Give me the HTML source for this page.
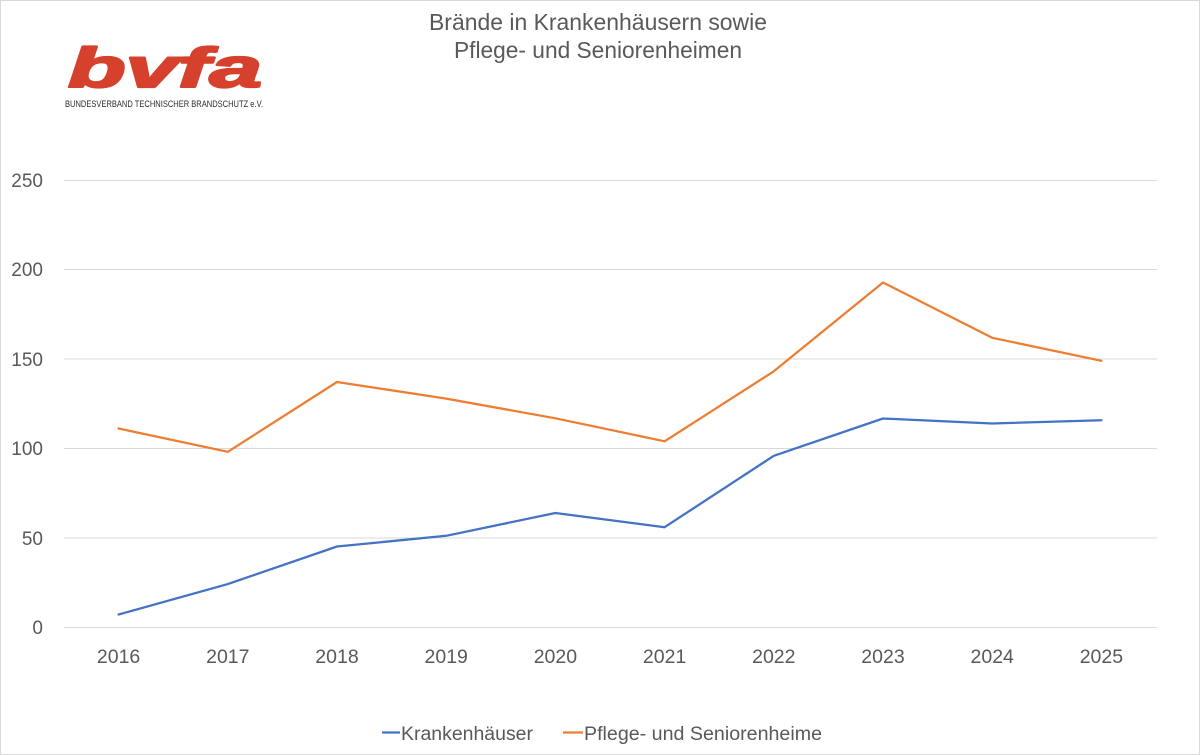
<!DOCTYPE html>
<html>
<head>
<meta charset="utf-8">
<style>
  html, body { margin: 0; padding: 0; background: #ffffff; }
  body { width: 1200px; height: 755px; overflow: hidden; }
  svg { display: block; }
  text { font-family: "Liberation Sans", "DejaVu Sans", sans-serif; }
</style>
</head>
<body>
<svg width="1200" height="755" viewBox="0 0 1200 755" xmlns="http://www.w3.org/2000/svg">
  <rect x="0.5" y="0.5" width="1199" height="754" fill="#ffffff" stroke="#d9d9d9" stroke-width="1"/>

  <!-- Logo -->
  <text x="68" y="87" font-size="56" font-weight="bold" font-style="italic" fill="#d6412d" stroke="#d6412d" stroke-width="2.2" stroke-linejoin="round" textLength="194" lengthAdjust="spacingAndGlyphs">bvfa</text>
  <text x="65" y="107" font-size="9.5" fill="#2b2b2b" textLength="198" lengthAdjust="spacingAndGlyphs">BUNDESVERBAND TECHNISCHER BRANDSCHUTZ e.V.</text>

  <!-- Title -->
  <text x="429" y="30" font-size="23.5" fill="#595959" textLength="338" lengthAdjust="spacingAndGlyphs">Brände in Krankenhäusern sowie</text>
  <text x="454" y="58" font-size="23.5" fill="#595959" textLength="288" lengthAdjust="spacingAndGlyphs">Pflege- und Seniorenheimen</text>

  <!-- Gridlines -->
  <g stroke="#d9d9d9" stroke-width="1">
    <line x1="64" y1="627.5" x2="1157" y2="627.5"/>
    <line x1="64" y1="538.0" x2="1157" y2="538.0"/>
    <line x1="64" y1="448.5" x2="1157" y2="448.5"/>
    <line x1="64" y1="359.0" x2="1157" y2="359.0"/>
    <line x1="64" y1="269.5" x2="1157" y2="269.5"/>
    <line x1="64" y1="180.5" x2="1157" y2="180.5"/>
  </g>

  <!-- Y labels -->
  <g font-size="19" fill="#595959" text-anchor="end">
    <text x="43" y="634">0</text>
    <text x="43" y="545">50</text>
    <text x="43" y="455">100</text>
    <text x="43" y="366">150</text>
    <text x="43" y="276">200</text>
    <text x="43" y="187">250</text>
  </g>

  <!-- X labels -->
  <g font-size="19.5" fill="#595959" text-anchor="middle">
    <text x="118.6" y="663">2016</text>
    <text x="227.8" y="663">2017</text>
    <text x="337.0" y="663">2018</text>
    <text x="446.2" y="663">2019</text>
    <text x="555.4" y="663">2020</text>
    <text x="664.6" y="663">2021</text>
    <text x="773.8" y="663">2022</text>
    <text x="883.0" y="663">2023</text>
    <text x="992.2" y="663">2024</text>
    <text x="1101.4" y="663">2025</text>
  </g>

  <!-- Series -->
  <polyline fill="none" stroke="#ed7d31" stroke-width="2.25" stroke-linejoin="round" stroke-linecap="round"
    points="118.6,428.5 227.8,451.8 337.0,382.0 446.2,398.6 555.4,418.3 664.6,441.3 773.8,371.3 883.0,282.5 992.2,337.8 1101.4,360.8"/>
  <polyline fill="none" stroke="#4472c4" stroke-width="2.25" stroke-linejoin="round" stroke-linecap="round"
    points="118.6,614.5 227.8,584.1 337.0,546.5 446.2,535.8 555.4,513.0 664.6,527.2 773.8,455.8 883.0,418.5 992.2,423.5 1101.4,420.2"/>

  <!-- Legend -->
  <line x1="382" y1="732.5" x2="400" y2="732.5" stroke="#4472c4" stroke-width="2.25"/>
  <text x="401" y="740" font-size="19" fill="#595959" textLength="132" lengthAdjust="spacingAndGlyphs">Krankenhäuser</text>
  <line x1="563" y1="732.5" x2="583" y2="732.5" stroke="#ed7d31" stroke-width="2.25"/>
  <text x="584" y="740" font-size="19" fill="#595959" textLength="238" lengthAdjust="spacingAndGlyphs">Pflege- und Seniorenheime</text>
</svg>
</body>
</html>
